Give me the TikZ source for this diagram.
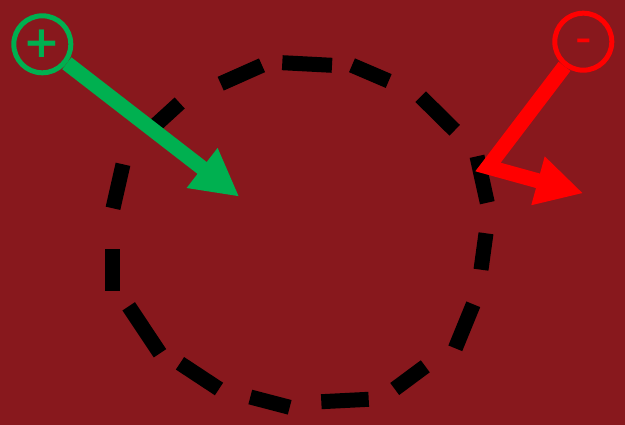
\documentclass[tikz,border=0pt]{standalone}
\usepackage{fontspec}
\newfontfamily\signfont{DejaVu Sans}
\usetikzlibrary{arrows.meta}
\definecolor{bg}{RGB}{136,24,29}
\definecolor{pgreen}{RGB}{0,176,80}
\definecolor{pred}{RGB}{255,0,0}
\begin{document}
\begin{tikzpicture}[x=1pt,y=-1pt,
  dashseg/.style={line width=15pt, black, line cap=butt},
  ring/.style={circle, draw, line width=5pt, minimum size=57pt, inner sep=0pt, fill=bg},
  sign/.style={font=\signfont\bfseries\fontsize{44}{44}\selectfont, inner sep=0pt},
  bigarrow/.style={line width=15pt, line join=miter, -{Triangle[length=47pt,width=47pt]}}]
\fill[bg] (0,0) rectangle (625,425);
\useasboundingbox (0,0) rectangle (625,425);
% dashed loop
\foreach \a/\b in {
  {(220.7,83.7)}/{(262,65.3)},
  {(282.3,62.7)}/{(332,65.3)},
  {(352,65.3)}/{(388.7,81)},
  {(420.7,96.7)}/{(454.7,130.3)},
  {(477,156.3)}/{(487.3,202.7)},
  {(486,233.3)}/{(481,269.7)},
  {(473.3,304.3)}/{(455.3,348.3)},
  {(425.3,366.3)}/{(394.7,389)},
  {(368.7,399.3)}/{(321.3,401.7)},
  {(289.7,407.3)}/{(250.3,397)},
  {(219,389)}/{(180,363.3)},
  {(160,353.3)}/{(128.7,306.3)},
  {(112,290.7)}/{(112,249)},
  {(113,208.3)}/{(123,164.3)},
  {(148,132)}/{(179.7,103)}}
  \draw[dashseg] \a -- \b;
% plus
\node[ring, draw=pgreen] (plus) at (42.3,44.3) {};
\node[sign, text=pgreen] (plustext) at (42,44) {+};
\coordinate (gtip) at (239.3,196.7);
\draw[bigarrow, pgreen] (plus) -- (gtip);
% minus
\node[ring, draw=pred] (minus) at (583.3,41.7) {};
\node[sign, text=pred, font=\signfont\fontsize{46}{46}\selectfont] (minustext) at (584,46) {-};
\coordinate (bend) at (488,167);
\coordinate (rtip) at (583.3,193.3);
\draw[bigarrow, pred] (minus) -- (bend) -- (rtip);
\end{tikzpicture}
\end{document}
